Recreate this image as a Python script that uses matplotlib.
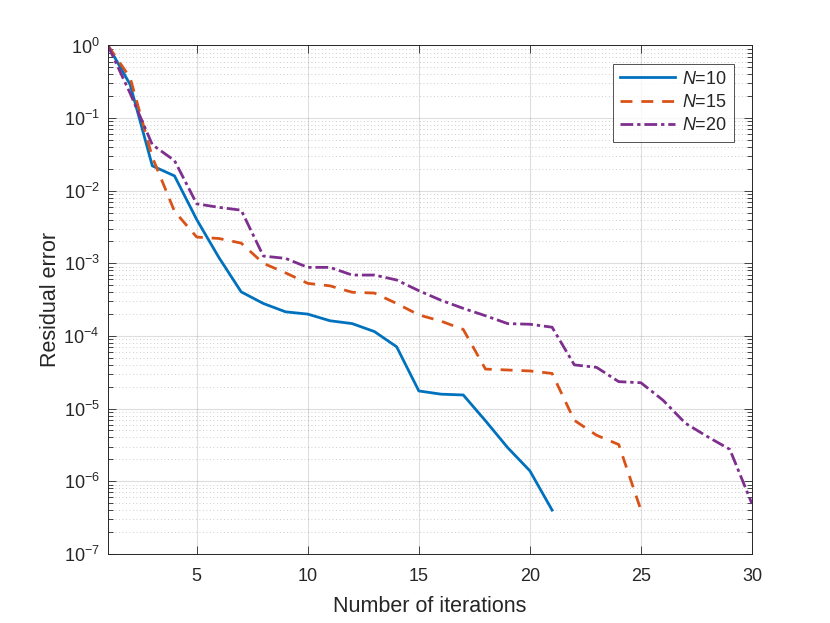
import matplotlib
matplotlib.use("Agg")
import matplotlib.pyplot as plt
from matplotlib.ticker import LogLocator, FixedLocator, FixedFormatter, NullFormatter

plt.rcParams['font.family'] = ['Liberation Sans', 'DejaVu Sans']
plt.rcParams['mathtext.fontset'] = 'custom'
plt.rcParams['mathtext.rm'] = 'Liberation Sans'
plt.rcParams['mathtext.it'] = 'Liberation Sans:italic'
plt.rcParams['mathtext.bf'] = 'Liberation Sans:bold'

# ---- data ----
iter_10 = list(range(1, 22))
err_10 = [1.0, 0.29, 0.022, 0.016, 4.0e-3, 1.2e-3, 4.05e-4, 2.8e-4, 2.15e-4, 2.0e-4,
          1.62e-4, 1.48e-4, 1.15e-4, 7.1e-5, 1.75e-5, 1.58e-5, 1.54e-5, 6.8e-6,
          2.9e-6, 1.39e-6, 4.0e-7]
iter_15 = list(range(1, 26))
err_15 = [1.0, 0.36, 0.029, 5.2e-3, 2.3e-3, 2.2e-3, 1.9e-3, 1.0e-3, 7.4e-4, 5.3e-4,
          4.9e-4, 4.0e-4, 3.9e-4, 2.8e-4, 1.95e-4, 1.6e-4, 1.23e-4, 3.5e-5, 3.4e-5,
          3.3e-5, 3.05e-5, 6.9e-6, 4.3e-6, 3.2e-6, 4.0e-7]
iter_20 = list(range(1, 31))
err_20 = [1.0, 0.22, 0.043, 0.026, 6.6e-3, 5.9e-3, 5.4e-3, 1.26e-3, 1.17e-3, 8.8e-4,
          8.8e-4, 6.9e-4, 6.9e-4, 5.9e-4, 4.2e-4, 3.1e-4, 2.4e-4, 1.9e-4, 1.48e-4,
          1.45e-4, 1.32e-4, 4.0e-5, 3.7e-5, 2.35e-5, 2.27e-5, 1.3e-5, 6.3e-6, 4.1e-6,
          2.75e-6, 4.9e-7]
series_labels = ['$N$=10', '$N$=15', '$N$=20']
x_ticks = [5, 10, 15, 20, 25, 30]
y_ticks = [1e-7, 1e-6, 1e-5, 1e-4, 1e-3, 1e-2, 1e-1, 1e0]
y_tick_labels = ['$10^{-7}$', '$10^{-6}$', '$10^{-5}$', '$10^{-4}$', '$10^{-3}$',
                 '$10^{-2}$', '$10^{-1}$', '$10^{0}$']

TXT = '#262626'
fig = plt.figure(figsize=(8.3, 6.23), dpi=100)
ax = fig.add_axes([0.13, 0.111, 0.776, 0.816])

ax.plot(iter_10, err_10, color='#0072BD', lw=2.0, linestyle='-', label=series_labels[0])
ax.plot(iter_15, err_15, color='#D95319', lw=2.0, linestyle=(0, (4.3, 3.2)), label=series_labels[1])
ax.plot(iter_20, err_20, color='#7E2F8E', lw=2.0, linestyle=(0, (4.6, 1.4, 1.2, 1.4)), label=series_labels[2])

ax.set_yscale('log')
ax.set_xlim(1, 30)
ax.set_ylim(1e-7, 1)

ax.xaxis.set_major_locator(FixedLocator(x_ticks))
ax.yaxis.set_major_locator(FixedLocator(y_ticks))
ax.yaxis.set_major_formatter(FixedFormatter(y_tick_labels))
ax.yaxis.set_minor_locator(LogLocator(base=10, subs=range(2, 10), numticks=20))
ax.yaxis.set_minor_formatter(NullFormatter())

ax.tick_params(axis='both', which='both', direction='in', top=True, right=True,
               colors=TXT, labelsize=13, width=0.6)
ax.tick_params(axis='both', which='major', length=6)
ax.tick_params(axis='y', which='minor', length=3.5)
ax.tick_params(axis='x', which='major', pad=10)
ax.tick_params(axis='y', which='major', pad=6)

ax.grid(True, which='major', color=TXT, alpha=0.15, lw=0.8, linestyle='-')
ax.grid(True, which='minor', axis='y', color=TXT, alpha=0.3, lw=0.6, linestyle=(0, (1, 3.2)))
ax.set_axisbelow(True)

for s in ax.spines.values():
    s.set_color(TXT)
    s.set_linewidth(0.7)

ax.set_xlabel('Number of iterations', fontsize=15.5, color=TXT, labelpad=8)
ax.set_ylabel('Residual error', fontsize=15.5, color=TXT, labelpad=2)

leg = ax.legend(loc='upper right', fontsize=13, frameon=True, fancybox=False,
                handlelength=3.0, handletextpad=0.4, labelspacing=0.35,
                borderaxespad=1.0, borderpad=0.4)
leg.get_frame().set_edgecolor(TXT)
leg.get_frame().set_linewidth(0.7)
for t in leg.get_texts():
    t.set_color(TXT)

fig.savefig('out.png', dpi=100)
